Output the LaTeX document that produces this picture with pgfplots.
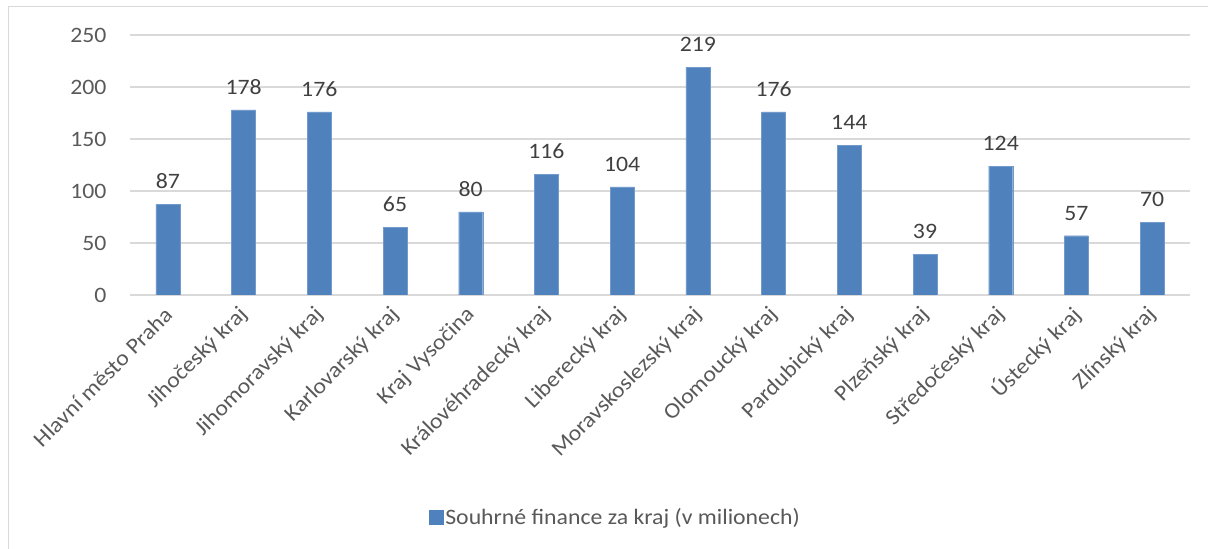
\documentclass[border=0pt]{standalone}
\usepackage{pgfplots}
\pgfplotsset{compat=1.18}
\usepackage{fontspec}
\setmainfont{Carlito}[FakeStretch=1.08]
\definecolor{barblue}{HTML}{4F81BD}
\definecolor{txtgray}{HTML}{595959}
\definecolor{lblgray}{HTML}{404040}
\definecolor{gridgray}{HTML}{D9D9D9}
\newcommand\cf{\fontsize{22bp}{26bp}\selectfont}
\pgfplotstableread{
x val
0 87
1 178
2 176
3 65
4 80
5 116
6 104
7 219
8 176
9 144
10 39
11 124
12 57
13 70
}\datatable
\begin{document}
\begin{tikzpicture}
\useasboundingbox (0,0) rectangle (1208bp,549bp);
\draw[gridgray, line width=1.2bp] (8.5bp,-20bp) -- (8.5bp,542.5bp) -- (1230bp,542.5bp);
\begin{axis}[
  at={(130bp,254bp)}, anchor=south west,
  scale only axis, width=1060bp, height=260bp,
  xmin=-0.5, xmax=13.5, ymin=0, ymax=250,
  ytick={0,50,100,150,200,250},
  xtick=data,
  xticklabels={Hlavní město Praha, Jihočeský kraj, Jihomoravský kraj, Karlovarský kraj, Kraj Vysočina, Královéhradecký kraj, Liberecký kraj, Moravskoslezský kraj, Olomoucký kraj, Pardubický kraj, Plzeňský kraj, Středočeský kraj, Ústecký kraj, Zlínský kraj},
  /pgf/number format/assume math mode=true,
  axis line style={draw=none},
  major tick length=0pt,
  ymajorgrids, grid style={gridgray, line width=1.2bp},
  yticklabel style={font=\cf, text=txtgray, xshift=-20bp},
  xticklabel style={font=\cf, text=txtgray, xshift=3bp, yshift=-14bp, rotate=45, anchor=east},
  ybar, bar width=24bp,
  nodes near coords,
  every node near coord/.append style={font=\cf, text=lblgray, yshift=12bp},
  legend style={at={(0.279,-0.854)}, anchor=west, draw=none, font=\cf, text=txtgray},
  legend image code/.code={\fill[barblue] (0bp,-7bp) rectangle (14bp,7bp);},
]
\addplot[fill=barblue, draw=barblue!80!white] table[x=x, y=val] {\datatable};
\addlegendentry{Souhrné finance za kraj (v milionech)}
\end{axis}
\end{tikzpicture}
\end{document}
